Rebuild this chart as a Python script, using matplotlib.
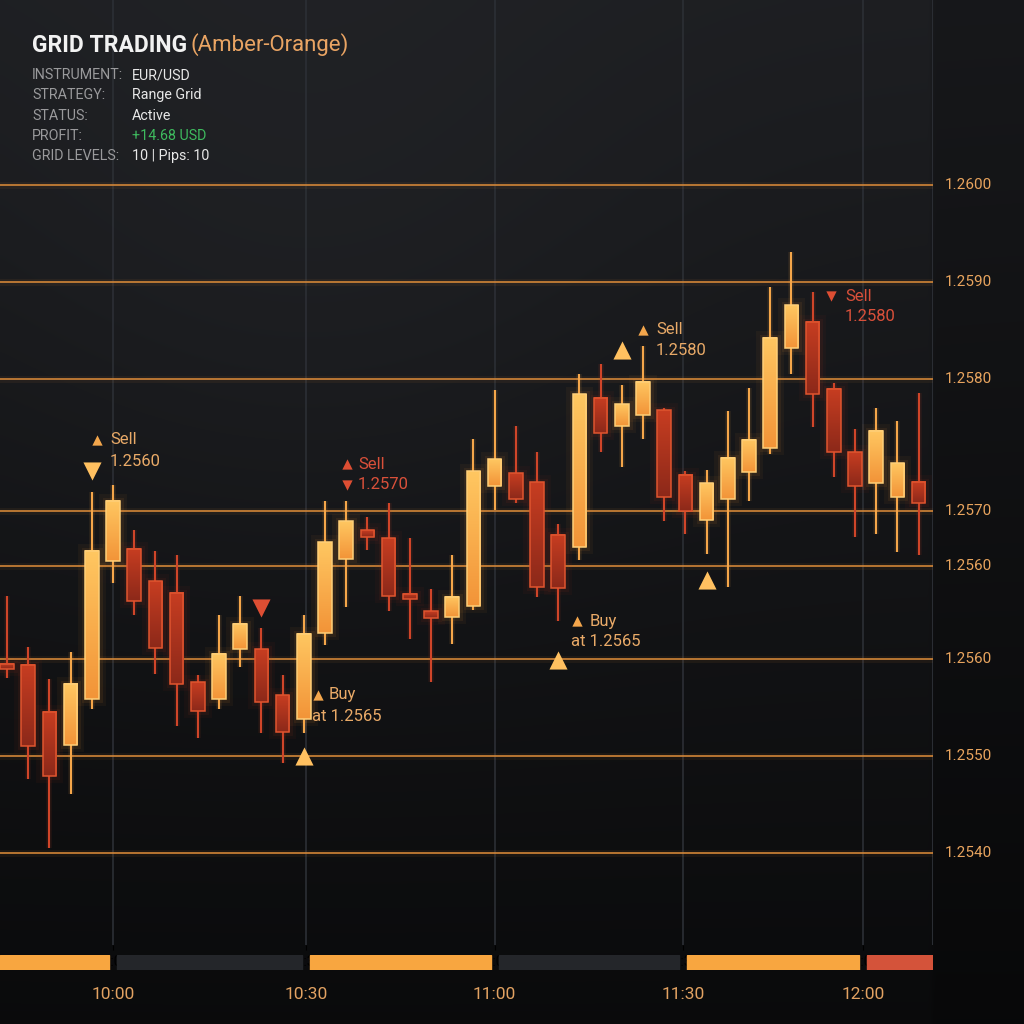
import numpy as np
import matplotlib
matplotlib.use("Agg")
import matplotlib.pyplot as plt
from matplotlib.patches import Rectangle
from matplotlib.transforms import blended_transform_factory

# ---- candles (EUR/USD) ----
opens = [1.25570, 1.25569, 1.25527, 1.25497, 1.25538, 1.25662, 1.25673, 1.25644, 1.25634, 1.25554,
         1.25538, 1.25583, 1.25583, 1.25542, 1.25520, 1.25598, 1.25664, 1.25690, 1.25683, 1.25633,
         1.25617, 1.25612, 1.25622, 1.25730, 1.25741, 1.25733, 1.25686, 1.25675, 1.25809, 1.25784,
         1.25793, 1.25798, 1.25740, 1.25699, 1.25718, 1.25742, 1.25764, 1.25854, 1.25877, 1.25817,
         1.25760, 1.25732, 1.25720, 1.25733]
highs = [1.25631, 1.25585, 1.25556, 1.25581, 1.25724, 1.25731, 1.25690, 1.25671, 1.25668, 1.25560,
         1.25614, 1.25631, 1.25602, 1.25560, 1.25614, 1.25716, 1.25716, 1.25702, 1.25714, 1.25683,
         1.25637, 1.25668, 1.25772, 1.25816, 1.25784, 1.25760, 1.25696, 1.25830, 1.25839, 1.25820,
         1.25855, 1.25800, 1.25743, 1.25744, 1.25797, 1.25818, 1.25908, 1.25940, 1.25904, 1.25822,
         1.25781, 1.25800, 1.25788, 1.25813]
lows = [1.25557, 1.25467, 1.25405, 1.25453, 1.25529, 1.25643, 1.25614, 1.25561, 1.25514, 1.25503,
        1.25529, 1.25567, 1.25508, 1.25481, 1.25508, 1.25587, 1.25621, 1.25672, 1.25617, 1.25592,
        1.25554, 1.25588, 1.25618, 1.25708, 1.25714, 1.25630, 1.25608, 1.25663, 1.25760, 1.25747,
        1.25772, 1.25698, 1.25687, 1.25669, 1.25639, 1.25716, 1.25758, 1.25830, 1.25783, 1.25738,
        1.25684, 1.25687, 1.25670, 1.25668]
closes = [1.25565, 1.25496, 1.25469, 1.25552, 1.25671, 1.25716, 1.25626, 1.25584, 1.25552, 1.25528,
          1.25579, 1.25606, 1.25536, 1.25509, 1.25597, 1.25679, 1.25698, 1.25684, 1.25631, 1.25628,
          1.25611, 1.25630, 1.25743, 1.25754, 1.25718, 1.25639, 1.25638, 1.25812, 1.25777, 1.25803,
          1.25823, 1.25720, 1.25707, 1.25732, 1.25755, 1.25771, 1.25863, 1.25892, 1.25812, 1.25760,
          1.25730, 1.25779, 1.25750, 1.25714]

# grid levels as drawn (labels as printed in the reference)
grid_prices = [1.26000, 1.25913, 1.25826, 1.25707, 1.25658, 1.25574, 1.25487, 1.25400]
grid_labels = ["1.2600", "1.2590", "1.2580", "1.2570", "1.2560", "1.2560", "1.2550", "1.2540"]

# time axis (candle index positions of the session marks)
time_pos = [5.0, 14.1, 23.0, 31.9, 40.4]
time_labels = ["10:00", "10:30", "11:00", "11:30", "12:00"]
session_state = ["up", "flat", "up", "flat", "up", "down"]

# big entry/exit triangles
signal_idx = [4.0, 12.0, 14.0, 26.0, 29.0, 33.0]
signal_price = [1.25743, 1.25620, 1.25487, 1.25573, 1.25852, 1.25645]
signal_shape = ["v", "v", "^", "^", "^", "^"]
signal_tone = ["amber", "red", "amber", "amber", "amber", "amber"]

# small label triangles
tag_idx = [4.25, 16.04, 16.04, 14.67, 26.89, 30.0, 38.87]
tag_price = [1.25771, 1.25749, 1.25731, 1.25542, 1.25608, 1.25870, 1.25900]
tag_shape = ["^", "^", "v", "^", "^", "^", "v"]
tag_tone = ["amber", "red", "red", "amber", "amber", "amber", "red"]

# label texts
note_idx = [4.86, 4.86, 16.56, 16.56, 15.19, 14.39, 27.5, 26.6, 30.61, 30.61, 39.53, 39.53]
note_price = [1.25771, 1.25752, 1.25749, 1.25731, 1.25542, 1.25523, 1.25608, 1.25590,
              1.25870, 1.25851, 1.25900, 1.25882]
note_text = ["Sell", "1.2560", "Sell", "1.2570", "Buy", "at 1.2565", "Buy", "at 1.2565",
             "Sell", "1.2580", "Sell", "1.2580"]
note_tone = ["amber", "amber", "red", "red", "amber", "amber", "amber", "amber",
             "amber", "amber", "red", "red"]

info_keys = ["INSTRUMENT:", "STRATEGY:", "STATUS:", "PROFIT:", "GRID LEVELS:"]
info_vals = ["EUR/USD", "Range Grid", "Active", "+14.68 USD", "10 | Pips: 10"]

TONE = {"amber": "#F3A64C", "red": "#DE4E33"}
TEXT_TONE = {"amber": "#E9AA68", "red": "#D9503A"}

plt.rcParams["font.family"] = ["Roboto", "DejaVu Sans"]

fig = plt.figure(figsize=(10.24, 10.24), dpi=100, facecolor="#111316")

# background
bg = fig.add_axes([0, 0, 1, 1], zorder=-10)
yy, xx = np.mgrid[0:1:256j, 0:1:256j]
base = 0.115 - 0.075 * yy + 0.02 * np.exp(-((xx - 0.3) ** 2 + (yy - 0.25) ** 2) / 0.12)
base[:, int(256 * 933 / 1024):] *= 0.78
rgb = np.dstack([base * 1.0, base * 1.04, base * 1.15]).clip(0, 1)
bg.imshow(rgb, extent=[0, 1, 0, 1], aspect="auto", interpolation="bicubic")
bg.axis("off")

# main chart
ax = fig.add_axes([0, 1 - 945 / 1024, 933 / 1024, 945 / 1024])
ax.set_facecolor("none")
n = len(opens)
ax.set_xlim(-0.33, 43.68)
ax.set_ylim(1.253175, 1.261661)

for p in time_pos:
    ax.axvline(p, color="#2C2F35", lw=1.2, zorder=0)
ax.axvline(43.66, color="#2A2D33", lw=1.5, zorder=0)

for gp in grid_prices:
    ax.axhline(gp, color="#D98A3A", lw=5, alpha=0.07, zorder=1)
    ax.axhline(gp, color="#D68838", lw=1.3, alpha=0.9, zorder=1)

w = 0.64
ramp = np.linspace(0, 1, 64)[:, None]
for i in range(n):
    o, h, l, c = opens[i], highs[i], lows[i], closes[i]
    up = c >= o
    lo, hi = min(o, c), max(o, c)
    wick = "#F4A64A" if up else "#CF4529"
    ax.plot([i, i], [l, h], color=wick, lw=4, alpha=0.10, zorder=2, solid_capstyle="butt")
    ax.plot([i, i], [l, h], color=wick, lw=1.5, zorder=3, solid_capstyle="butt")
    if up:
        top, bot, edge, halo = (np.array([1.0, 0.78, 0.38]), np.array([0.95, 0.58, 0.22]),
                                "#FFCF78", "#F59A3A")
    else:
        top, bot, edge, halo = (np.array([0.78, 0.24, 0.13]), np.array([0.55, 0.16, 0.10]),
                                "#E0552F", "#C03A20")
    for lw_, a_ in [(10, 0.05), (5, 0.08)]:
        ax.add_patch(Rectangle((i - w / 2, lo), w, hi - lo, fill=False, edgecolor=halo,
                               lw=lw_, alpha=a_, zorder=3))
    grad = bot + (top - bot) * ramp
    img = np.repeat(grad[:, None, :], 2, axis=1)
    ax.imshow(img, extent=[i - w / 2, i + w / 2, lo, hi], origin="lower", aspect="auto",
              interpolation="bilinear", zorder=4)
    ax.add_patch(Rectangle((i - w / 2, lo), w, hi - lo, fill=False, edgecolor=edge,
                           lw=1.1, zorder=5))

ax.set_xlim(-0.33, 43.68)
ax.set_ylim(1.253175, 1.261661)

for xi, yi, sh, tn in zip(signal_idx, signal_price, signal_shape, signal_tone):
    ax.scatter([xi], [yi], marker=sh, s=170, color="#FFC060" if tn == "amber" else TONE[tn],
               lw=0, zorder=7)
for xi, yi, sh, tn in zip(tag_idx, tag_price, tag_shape, tag_tone):
    ax.scatter([xi], [yi], marker=sh, s=55, color=TONE[tn], lw=0, zorder=7)
for xi, yi, t, tn in zip(note_idx, note_price, note_text, note_tone):
    ax.text(xi, yi, t, color=TEXT_TONE[tn], fontsize=12, va="center", ha="left", zorder=8)

tr = blended_transform_factory(ax.transAxes, ax.transData)
for gp, lab in zip(grid_prices, grid_labels):
    ax.text(945 / 933, gp, lab, transform=tr, color="#E8A45E", fontsize=11,
            va="center", ha="left", clip_on=False)

for s in ax.spines.values():
    s.set_visible(False)
ax.set_xticks([])
ax.set_yticks([])

# session bar
bar = fig.add_axes([0, 1 - 970 / 1024, 933 / 1024, 15 / 1024], sharex=ax)
bar.set_facecolor("none")
edges = [-0.33] + time_pos + [43.68]
bar_col = {"up": "#F8A640", "flat": "#24262A", "down": "#D4533A"}
for k, st in enumerate(session_state):
    a0 = edges[k] + (0.0 if k == 0 else 0.19)
    a1 = edges[k + 1] - (0.0 if k == len(session_state) - 1 else 0.19)
    bar.axvspan(a0, a1, color=bar_col[st], ymin=0, ymax=1)
bar.set_ylim(0, 1)
bar.set_xlim(-0.33, 43.68)
bar.set_yticks([])
bar.set_xticks(time_pos)
bar.set_xticklabels(time_labels, fontsize=12.5, color="#E2A262")
bar.tick_params(axis="x", length=0, pad=12)
for s in bar.spines.values():
    s.set_visible(False)

# header
fig.text(32 / 1024, 1 - 45 / 1024, "GRID TRADING", color="#F2F2F2", fontsize=16.5,
         fontweight="bold", va="center", ha="left")
fig.text(191 / 1024, 1 - 45 / 1024, "(Amber-Orange)", color="#E9A463", fontsize=16,
         va="center", ha="left")
for k, (key, val) in enumerate(zip(info_keys, info_vals)):
    yk = 1 - (75 + 20.3 * k) / 1024
    fig.text(32 / 1024, yk, key, color="#9A9A9C", fontsize=10.3, va="center", ha="left")
    fig.text(132 / 1024, yk, val, color="#3EBB5E" if key == "PROFIT:" else "#E8E8E8",
             fontsize=10.3, va="center", ha="left")

fig.savefig("out.png", dpi=100, facecolor=fig.get_facecolor())
